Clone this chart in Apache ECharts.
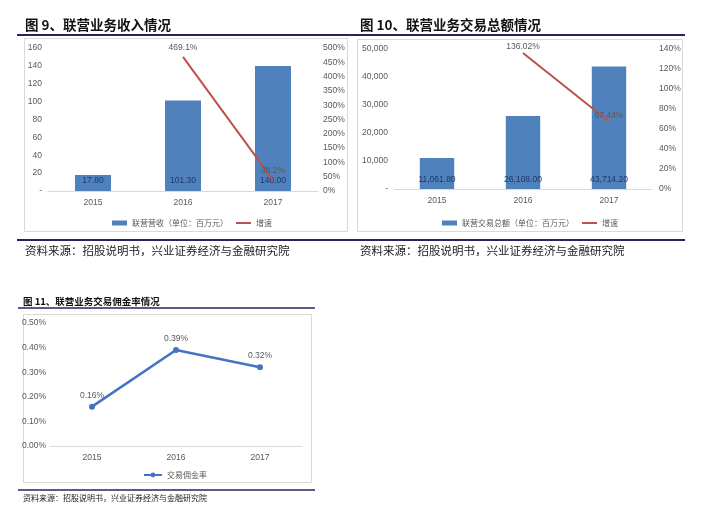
<!DOCTYPE html>
<html>
<head>
<meta charset="utf-8">
<script src="https://cdn.jsdelivr.net/npm/echarts@6/dist/echarts.min.js"></script>
<style>
html,body{margin:0;padding:0;background:#fff;}
#c{width:714px;height:507px;}
</style>
</head>
<body>
<div id="c"></div>
<script>
// ---- data ----
const years = ['2015', '2016', '2017'];
const revenue = [17.80, 101.30, 140.00];          // 联营营收（百万元）
const revenueGrowth = [null, 469.1, 38.2];        // 增速 %
const volume = [11061.80, 26108.00, 43714.20];    // 联营交易总额（百万元）
const volumeGrowth = [null, 136.02, 67.44];       // 增速 %
const commission = [0.16, 0.39, 0.32];            // 交易佣金率 %

const revTicks = { min: 0, max: 160, interval: 20 };
const revPctTicks = { min: 0, max: 500, interval: 50 };
const volTicks = { min: 0, max: 50000, interval: 10000 };
const volPctTicks = { min: 0, max: 140, interval: 20 };
const comTicks = { min: 0, max: 0.5, interval: 0.1 };

const FONT = '"Liberation Sans", "Noto Sans CJK SC", sans-serif';
const CJK = '"Noto Sans CJK SC", sans-serif';
const GRAY = '#595959';
const BLUE = '#4f81bd';
const RED = '#c0504d';
const NAVY = '#25255e';

function comma(n, d) {
  const s = n.toFixed(d).split('.');
  s[0] = s[0].replace(/\B(?=(\d{3})+(?!\d))/g, ',');
  return s.join('.');
}

const chart = echarts.init(document.getElementById('c'));

const axLabel = { color: GRAY, fontSize: 8.5, fontFamily: FONT };
function yAx(grid, t, pos, fmt, margin) {
  return {
    type: 'value', gridIndex: grid, position: pos, min: t.min, max: t.max, interval: t.interval,
    axisLine: { show: false }, axisTick: { show: false }, splitLine: { show: false },
    axisLabel: Object.assign({ formatter: fmt, margin: margin }, axLabel)
  };
}
function xAx(grid) {
  return {
    type: 'category', gridIndex: grid, data: years,
    axisLine: { lineStyle: { color: '#d9d9d9' } }, axisTick: { show: false },
    axisLabel: Object.assign({ margin: 7 }, axLabel)
  };
}
const lineIcon = 'path://M0,0 L15,0 L15,2 L0,2 Z';

function txt(x, y, s, size, weight, color, font) {
  return { type: 'text', x: x, y: y, style: { text: s, fill: color, fontSize: size, fontWeight: weight, fontFamily: font || CJK, textVerticalAlign: 'middle' }, z: 10 };
}
function hline(x1, x2, y, w) {
  return { type: 'line', shape: { x1: x1, y1: y, x2: x2, y2: y }, style: { stroke: NAVY, lineWidth: w }, z: 10 };
}
function box(x, y, w, h) {
  return { type: 'rect', shape: { x: x, y: y, width: w, height: h }, style: { fill: 'none', stroke: '#d9d9d9', lineWidth: 1 }, z: 0 };
}

chart.setOption({
  animation: false,
  backgroundColor: '#fff',
  textStyle: { fontFamily: FONT },
  graphic: [
    txt(25, 25, '图 9、联营业务收入情况', 13.5, 'bold', '#111'),
    txt(360, 25, '图 10、联营业务交易总额情况', 13.5, 'bold', '#111'),
    hline(17, 685, 35, 2),
    box(24.5, 38.5, 323, 193),
    box(357.5, 39.5, 325, 192),
    hline(17, 685, 240, 2),
    txt(25, 251, '资料来源：招股说明书，兴业证券经济与金融研究院', 11.5, 'normal', '#222'),
    txt(360, 251, '资料来源：招股说明书，兴业证券经济与金融研究院', 11.5, 'normal', '#222'),
    txt(23, 301, '图 11、联营业务交易佣金率情况', 9.5, 'bold', '#111'),
    hline(18, 315, 308, 1.5),
    box(23.5, 314.5, 288, 168),
    hline(18, 315, 490, 1.5),
    txt(23, 498, '资料来源：招股说明书，兴业证券经济与金融研究院', 8, 'normal', '#222')
  ],
  grid: [
    { left: 48, right: 396, top: 48, bottom: 316 },
    { left: 394, right: 62, top: 49, bottom: 318 },
    { left: 50, right: 412, top: 323, bottom: 61 }
  ],
  xAxis: [xAx(0), xAx(1), xAx(2)],
  yAxis: [
    yAx(0, revTicks, 'left', v => v === 0 ? '-' : String(v), 6),
    yAx(0, revPctTicks, 'right', v => v + '%', 5),
    yAx(1, volTicks, 'left', v => v === 0 ? '-' : comma(v, 0), 6),
    yAx(1, volPctTicks, 'right', v => v + '%', 7),
    yAx(2, comTicks, 'left', v => v.toFixed(2) + '%', 4)
  ],
  legend: [
    {
      top: 214, left: 107, itemWidth: 15, itemHeight: 5, itemGap: 8,
      textStyle: { color: GRAY, fontSize: 8, fontFamily: CJK },
      data: [{ name: '联营营收（单位：百万元）', icon: 'rect' }, { name: '增速', icon: lineIcon, itemStyle: { color: RED } }]
    },
    {
      top: 214, left: 437, itemWidth: 15, itemHeight: 5, itemGap: 8,
      textStyle: { color: GRAY, fontSize: 8, fontFamily: CJK },
      data: [{ name: '联营交易总额（单位：百万元）', icon: 'rect' }, { name: '增速 ', icon: lineIcon, itemStyle: { color: RED } }]
    },
    {
      top: 466, left: 138, itemWidth: 18, itemHeight: 6,
      textStyle: { color: GRAY, fontSize: 8, fontFamily: CJK },
      data: ['交易佣金率']
    }
  ],
  series: [
    {
      name: '联营营收（单位：百万元）', type: 'bar', xAxisIndex: 0, yAxisIndex: 0, data: revenue,
      barWidth: '40%', itemStyle: { color: BLUE },
      label: { show: true, position: 'insideBottom', distance: 6, color: '#1f3864', fontSize: 8.5, fontFamily: FONT, formatter: p => p.value.toFixed(2) }
    },
    {
      name: '增速', type: 'line', xAxisIndex: 0, yAxisIndex: 1, data: revenueGrowth,
      symbol: 'circle', symbolSize: 0.01, showSymbol: true,
      lineStyle: { color: RED, width: 2 }, itemStyle: { color: RED }, z: 5,
      label: { show: true, position: 'top', distance: 5, color: GRAY, fontSize: 8.5, fontFamily: FONT, formatter: p => p.value + '%' }
    },
    {
      name: '联营交易总额（单位：百万元）', type: 'bar', xAxisIndex: 1, yAxisIndex: 2, data: volume,
      barWidth: '40%', itemStyle: { color: BLUE },
      label: { show: true, position: 'insideBottom', distance: 5, color: '#1f3864', fontSize: 8.5, fontFamily: FONT, formatter: p => comma(p.value, 2) }
    },
    {
      name: '增速 ', type: 'line', xAxisIndex: 1, yAxisIndex: 3, data: volumeGrowth,
      symbol: 'circle', symbolSize: 0.01, showSymbol: true,
      lineStyle: { color: RED, width: 2 }, itemStyle: { color: RED }, z: 5,
      label: { show: true, position: 'top', distance: 2, color: GRAY, fontSize: 8.5, fontFamily: FONT, formatter: p => p.value.toFixed(2) + '%' }
    },
    {
      name: '交易佣金率', type: 'line', xAxisIndex: 2, yAxisIndex: 4, data: commission,
      symbol: 'circle', symbolSize: 6, showSymbol: true,
      lineStyle: { color: '#4472c4', width: 2.5 }, itemStyle: { color: '#4472c4' },
      label: { show: true, position: 'top', distance: 4, color: GRAY, fontSize: 8.5, fontFamily: FONT, formatter: p => p.value.toFixed(2) + '%' }
    }
  ]
});
</script>
</body>
</html>
